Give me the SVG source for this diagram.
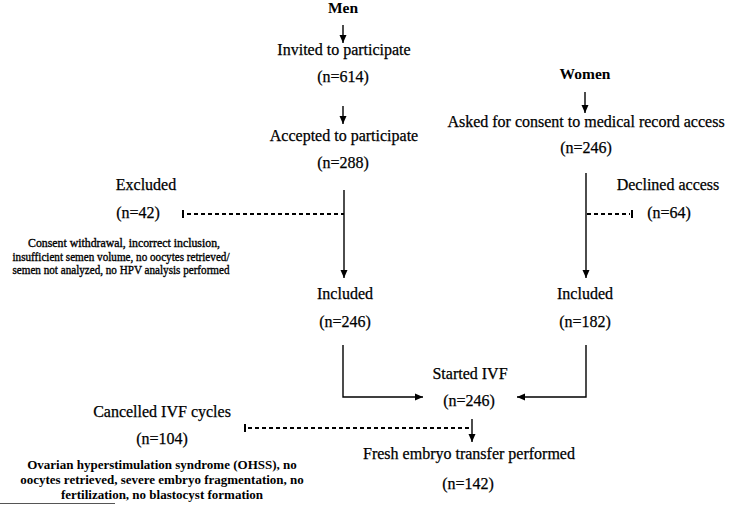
<svg xmlns="http://www.w3.org/2000/svg" width="729" height="505" viewBox="0 0 729 505">
<defs>
<marker id="ah" markerWidth="8" markerHeight="8" refX="8" refY="4" orient="auto" markerUnits="userSpaceOnUse">
<path d="M0,0.5 L8,4 L0,7.5 Z" fill="#000"/>
</marker>
<style>
text{font-family:"Liberation Serif","Times New Roman",serif;fill:#000;text-anchor:middle}
.m{font-size:16px;stroke:#000;stroke-width:0.25}
.h{font-size:15.5px;font-weight:bold}
.s{font-size:12px;stroke:#000;stroke-width:0.35}
.c{font-size:13px;font-weight:bold}
.ln{stroke:#000;stroke-width:1.4;fill:none}
.ar{stroke:#000;stroke-width:1.4;fill:none;marker-end:url(#ah)}
.ds{stroke:#000;stroke-width:1.8;fill:none;stroke-dasharray:4 3}
.tk{stroke:#000;stroke-width:2}
</style>
</defs>
<rect width="729" height="505" fill="#fff"/>
<g id="men"><text class="h" x="343" y="13">Men</text></g>
<g id="invited"><text class="m" x="344" y="55">Invited to participate</text><text class="m" x="343" y="82">(n=614)</text></g>
<g id="accepted"><text class="m" x="344" y="141">Accepted to participate</text><text class="m" x="343" y="168">(n=288)</text></g>
<g id="women"><text class="h" x="585" y="79">Women</text></g>
<g id="asked"><text class="m" x="586" y="127">Asked for consent to medical record access</text><text class="m" x="586" y="153">(n=246)</text></g>
<g id="excluded"><text class="m" x="146" y="190">Excluded</text><text class="m" x="138" y="218">(n=42)</text>
<text class="s" x="124" y="247" textLength="192" lengthAdjust="spacingAndGlyphs">Consent withdrawal, incorrect inclusion,</text>
<text class="s" x="121" y="261" textLength="217" lengthAdjust="spacingAndGlyphs">insufficient semen volume, no oocytes retrieved/</text>
<text class="s" x="121" y="274" textLength="217" lengthAdjust="spacingAndGlyphs">semen not analyzed, no HPV analysis performed</text></g>
<g id="declined"><text class="m" x="668" y="190">Declined access</text><text class="m" x="669" y="218">(n=64)</text></g>
<g id="included-men"><text class="m" x="345" y="299">Included</text><text class="m" x="345" y="327">(n=246)</text></g>
<g id="included-women"><text class="m" x="585" y="299">Included</text><text class="m" x="585" y="327">(n=182)</text></g>
<g id="started"><text class="m" x="470" y="379">Started IVF</text><text class="m" x="469" y="406">(n=246)</text></g>
<g id="cancelled"><text class="m" x="162" y="417">Cancelled IVF cycles</text><text class="m" x="162" y="444">(n=104)</text>
<text class="c" x="162" y="469">Ovarian hyperstimulation syndrome (OHSS), no</text>
<text class="c" x="162" y="484">oocytes retrieved, severe embryo fragmentation, no</text>
<text class="c" x="162" y="499">fertilization, no blastocyst formation</text></g>
<g id="fresh"><text class="m" x="469" y="459">Fresh embryo transfer performed</text><text class="m" x="468" y="489">(n=142)</text></g>
<g id="connectors">
<line class="ar" x1="343" y1="25" x2="343" y2="43"/>
<line class="ar" x1="343" y1="106" x2="343" y2="124"/>
<line class="ar" x1="585" y1="92" x2="585" y2="113"/>
<line class="ar" x1="344" y1="190" x2="344" y2="278"/>
<line class="ar" x1="586" y1="173" x2="586" y2="278"/>
<line class="ds" x1="187" y1="214" x2="344" y2="214"/>
<line class="tk" x1="183" y1="210" x2="183" y2="218"/>
<line class="ds" x1="587" y1="214" x2="630" y2="214"/>
<line class="tk" x1="632" y1="210" x2="632" y2="218"/>
<polyline class="ar" points="343,345 343,397 423,397"/>
<polyline class="ar" points="586,345 586,397 517,397"/>
<line class="ds" x1="248" y1="428" x2="472" y2="428"/>
<line class="tk" x1="245" y1="424" x2="245" y2="432"/>
<line class="ar" x1="472" y1="419" x2="472" y2="442"/>
<line x1="0" y1="503.5" x2="115" y2="503.5" stroke="#555" stroke-width="1"/>
</g>
</svg>
